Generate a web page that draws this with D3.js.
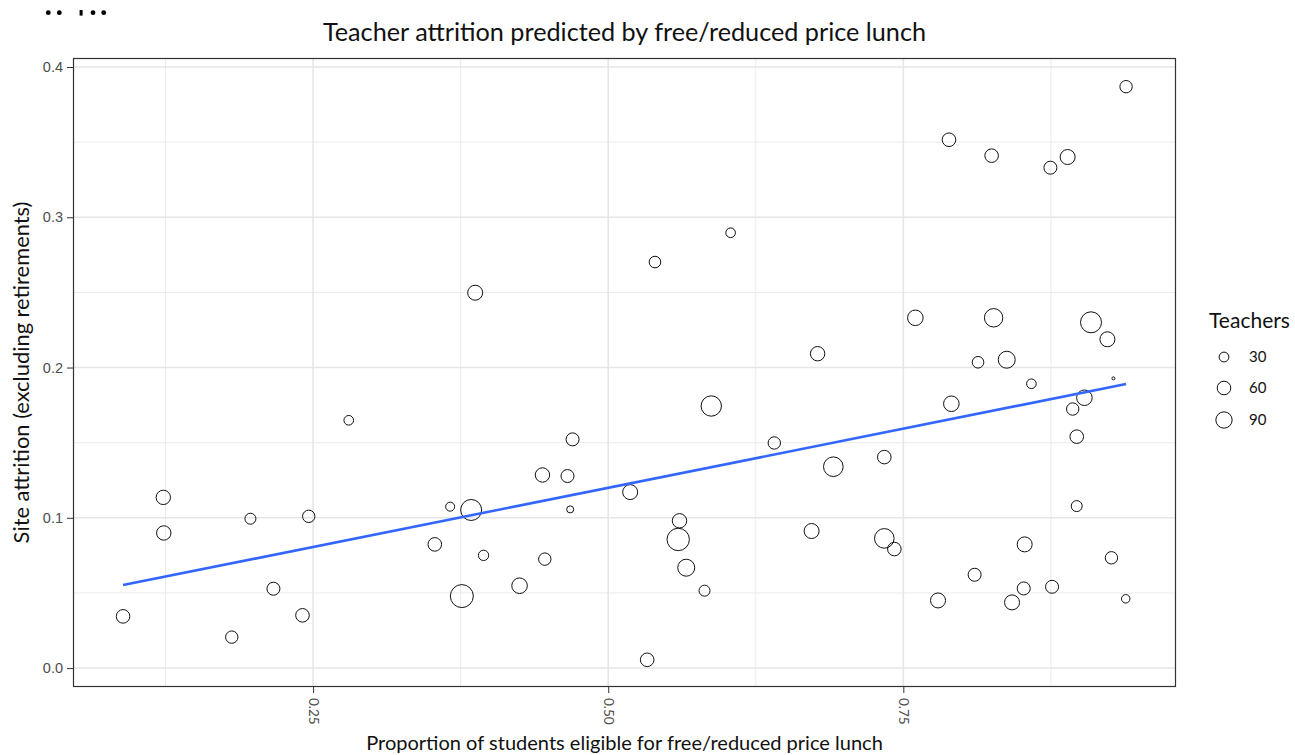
<!DOCTYPE html>
<html><head><meta charset="utf-8">
<script src="https://cdn.jsdelivr.net/npm/d3@7/dist/d3.min.js"></script>
<style>body{margin:0;background:#fff;} svg{display:block;font-family:Lato,"Open Sans",sans-serif;}</style>
</head><body><svg id="c" width="1295" height="755"></svg>
<script>
// ---- data ----
const lunch = [0.0890,0.1231,0.1235,0.1811,0.1969,0.2164,0.2410,0.2463,0.2802,0.3531,0.3661,0.3760,0.3839,0.3873,0.3944,0.4249,0.4443,0.4463,0.4655,0.4678,0.4698,0.5186,0.5330,0.5396,0.5593,0.5604,0.5661,0.5816,0.5873,0.6037,0.6407,0.6723,0.6774,0.6907,0.7339,0.7339,0.7424,0.7602,0.7794,0.7887,0.7907,0.8104,0.8133,0.8248,0.8265,0.8376,0.8421,0.8520,0.8528,0.8585,0.8746,0.8760,0.8892,0.8935,0.8969,0.8969,0.9034,0.9090,0.9229,0.9263,0.9280,0.9384,0.9387];
const attrition = [0.0344,0.1136,0.0899,0.0206,0.0994,0.0528,0.0351,0.1010,0.1649,0.0823,0.1074,0.0479,0.1052,0.2498,0.0750,0.0548,0.1285,0.0725,0.1278,0.1056,0.1522,0.1171,0.0055,0.2702,0.0856,0.0980,0.0668,0.0515,0.1744,0.2897,0.1498,0.0912,0.2092,0.1340,0.1404,0.0863,0.0792,0.2331,0.0450,0.3516,0.1759,0.0621,0.2035,0.3410,0.2331,0.2052,0.0437,0.0530,0.0823,0.1892,0.3330,0.0541,0.3401,0.1724,0.1540,0.1078,0.1799,0.2301,0.2188,0.0734,0.1928,0.0461,0.3869];
const teachers = [68,77,77,56,44,62,68,56,34,68,30,212,174,84,39,91,77,56,62,20,62,84,68,49,200,77,110,44,163,34,56,84,77,150,68,150,68,91,84,68,91,62,49,68,131,110,84,62,84,34,62,62,84,56,68,44,91,174,84,56,12,27,56];
// fitted line: intercept, slope
const lmCoef = [0.0412, 0.1575];
const xTicks = [0.25, 0.50, 0.75];
const xTickLabels = ["0.25", "0.50", "0.75"];
const xMinor = [0.125, 0.375, 0.625, 0.875];
const yTicks = [0.0, 0.1, 0.2, 0.3, 0.4];
const yTickLabels = ["0.0", "0.1", "0.2", "0.3", "0.4"];
const yMinor = [0.05, 0.15, 0.25, 0.35];
const legendValues = [30, 60, 90];
const legendLabels = ["30", "60", "90"];
const titleText = "Teacher attrition predicted by free/reduced price lunch";
const xTitle = "Proportion of students eligible for free/reduced price lunch";
const yTitle = "Site attrition (excluding retirements)";
const legendTitle = "Teachers";

// ---- layout ----
const svg = d3.select("#c");
const P = {l: 73, r: 1176, t: 58, b: 687};
const x = d3.scaleLinear().domain([0.0466, 0.981]).range([P.l, P.r]);
const y = d3.scaleLinear().domain([-0.0126, 0.406]).range([P.b, P.t]);
const tMin = d3.min(teachers), tMax = d3.max(teachers);
const rLin = d3.scaleLinear().domain([0, 1]).range([1.5, 11.5]);
const rad = v => rLin(Math.sqrt(Math.max(0, (v - tMin) / (tMax - tMin))));

function fit(sel, w) {
  const n = sel.node();
  const cur = parseFloat(sel.attr("font-size"));
  const len = n.getComputedTextLength();
  sel.attr("font-size", (cur * w / len).toFixed(2));
}

// stray glyphs top-left
const g0 = svg.append("g").attr("fill", "#000");
[48.3, 59.3, 93, 103.7].forEach(cx => g0.append("circle").attr("cx", cx).attr("cy", 12.7).attr("r", 2.4));
g0.append("rect").attr("x", 79.6).attr("y", 10).attr("width", 3).attr("height", 5.6);

// grid
const grid = svg.append("g");
grid.selectAll(".xm").data(xMinor).join("line").attr("class", "xm")
  .attr("x1", d => x(d)).attr("x2", d => x(d)).attr("y1", P.t).attr("y2", P.b)
  .attr("stroke", "#ebebeb").attr("stroke-width", 1);
grid.selectAll(".ym").data(yMinor).join("line").attr("class", "ym")
  .attr("y1", d => y(d)).attr("y2", d => y(d)).attr("x1", P.l).attr("x2", P.r)
  .attr("stroke", "#ebebeb").attr("stroke-width", 1);
grid.selectAll(".xM").data(xTicks).join("line").attr("class", "xM")
  .attr("x1", d => x(d)).attr("x2", d => x(d)).attr("y1", P.t).attr("y2", P.b)
  .attr("stroke", "#e6e6e6").attr("stroke-width", 1.6);
grid.selectAll(".yM").data(yTicks).join("line").attr("class", "yM")
  .attr("y1", d => y(d)).attr("y2", d => y(d)).attr("x1", P.l).attr("x2", P.r)
  .attr("stroke", "#e6e6e6").attr("stroke-width", 1.6);

// points
svg.append("g").selectAll("circle").data(lunch.map((d, i) => ({x: d, y: attrition[i], t: teachers[i]})))
  .join("circle")
  .attr("cx", d => x(d.x)).attr("cy", d => y(d.y)).attr("r", d => rad(d.t))
  .attr("fill", "none").attr("stroke", "#111").attr("stroke-width", 1);

// fitted line over data range
const ext = d3.extent(lunch);
const line = d3.line().x(d => x(d)).y(d => y(lmCoef[0] + lmCoef[1] * d));
svg.append("path").attr("d", line(ext))
  .attr("fill", "none").attr("stroke", "#3366FF").attr("stroke-width", 2.6);

// panel border
svg.append("rect").attr("x", P.l + 0.5).attr("y", P.t + 0.5)
  .attr("width", P.r - P.l - 1).attr("height", P.b - P.t - 1)
  .attr("fill", "none").attr("stroke", "#333").attr("stroke-width", 1.2);

// axes
const xAxis = svg.append("g").attr("transform", `translate(0,${P.b})`)
  .call(d3.axisBottom(x).tickValues(xTicks).tickSize(6).tickFormat((d, i) => xTickLabels[i]));
xAxis.select(".domain").remove();
xAxis.selectAll("line").attr("stroke", "#333");
xAxis.selectAll("text").attr("fill", "#4d4d4d").attr("font-size", 13.5)
  .attr("transform", "rotate(90)").attr("text-anchor", "start")
  .attr("x", 11).attr("y", 0).attr("dy", "0.35em").style("font-family", "Lato,sans-serif");

const yAxis = svg.append("g").attr("transform", `translate(${P.l},0)`)
  .call(d3.axisLeft(y).tickValues(yTicks).tickSize(6).tickFormat((d, i) => yTickLabels[i]));
yAxis.select(".domain").remove();
yAxis.selectAll("line").attr("stroke", "#333");
yAxis.selectAll("text").attr("fill", "#4d4d4d").attr("font-size", 14.5).attr("x", -10);

// titles
const tt = svg.append("text").attr("x", (P.l + P.r) / 2).attr("y", 41).attr("text-anchor", "middle")
  .attr("font-size", 22).attr("fill", "#111").text(titleText);
fit(tt, 603);
const xt = svg.append("text").attr("x", (P.l + P.r) / 2).attr("y", 750).attr("text-anchor", "middle")
  .attr("font-size", 19).attr("fill", "#111").text(xTitle);
fit(xt, 517);
const yt = svg.append("text").attr("transform", `translate(29,${(P.t + P.b) / 2}) rotate(-90)`)
  .attr("text-anchor", "middle").attr("font-size", 19).attr("fill", "#111").text(yTitle);
fit(yt, 342);

// legend
const lg = svg.append("g");
const ltt = lg.append("text").attr("x", 1209).attr("y", 328).attr("font-size", 18).attr("fill", "#111").text(legendTitle);
fit(ltt, 81);
const ly = [357, 388, 420];
lg.selectAll("circle").data(legendValues).join("circle")
  .attr("cx", 1224).attr("cy", (d, i) => ly[i]).attr("r", d => rad(d) + 0.4)
  .attr("fill", "none").attr("stroke", "#111").attr("stroke-width", 1);
lg.selectAll(".ll").data(legendLabels).join("text").attr("class", "ll")
  .attr("x", 1249).attr("y", (d, i) => ly[i]).attr("dy", "0.35em")
  .attr("font-size", 15).attr("fill", "#111").text(d => d);
</script></body></html>
